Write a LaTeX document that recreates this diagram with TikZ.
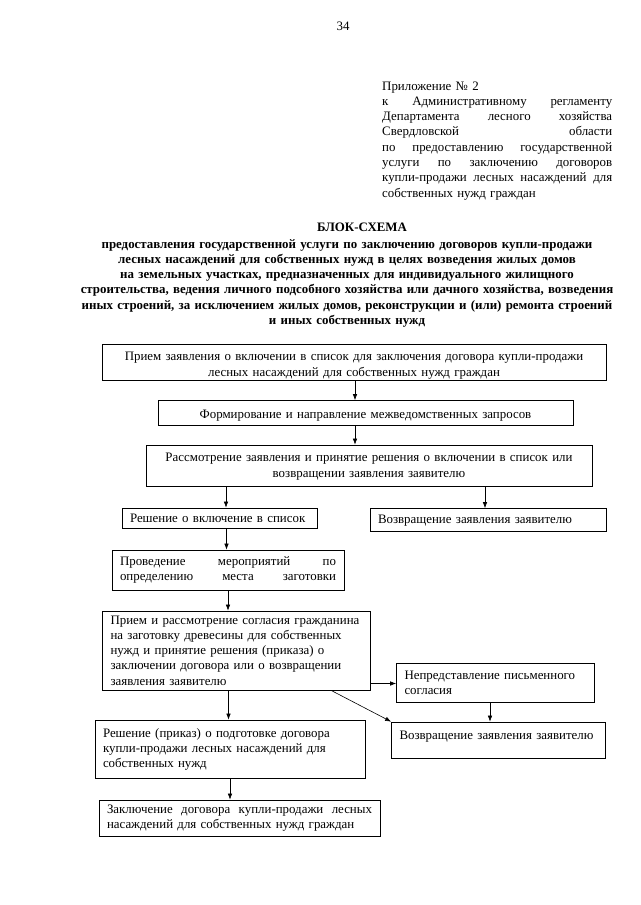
\documentclass[tikz,border=0pt]{standalone}
\usepackage{fontspec}
\setmainfont{Liberation Serif}
\usetikzlibrary{arrows.meta}
\newcommand{\jline}[1]{\makebox[\linewidth][s]{\spaceskip=0.3em plus 1fil\relax#1}}

\begin{document}
\begin{tikzpicture}[x=1pt, y=-1pt,
    font=\fontsize{12.9}{15.3}\selectfont,
    box/.style={draw, line width=0.7pt, inner xsep=8pt, inner ysep=0pt},
    arr/.style={line width=0.6pt, -{Latex[length=6pt,width=4.5pt]}}]
        \useasboundingbox (0,0) rectangle (640,905);

        % header
        \node [anchor=base] (page) at (343,30) {34};
        \node [anchor=base west, inner sep=0pt, text width=230pt, align=left] (prilozh) at (382,90) {Приложение №~2\\
            \jline{к Административному регламенту}\\
            \jline{Департамента лесного хозяйства}\\
            \jline{Свердловской области}\\
            \jline{по предоставлению государственной}\\
            \jline{услуги по заключению договоров}\\
            \jline{купли-продажи лесных насаждений для}\\
            собственных нужд граждан};
        \node [anchor=base, font=\bfseries\fontsize{12.9}{15.3}\selectfont] (titul) at (362,231.5) {БЛОК-СХЕМА};
        \node [anchor=base, inner sep=0pt, text width=560pt, align=center, font=\bfseries\fontsize{12.9}{15.3}\selectfont] (podtitul) at (347,248) {предоставления государственной услуги по заключению договоров купли-продажи\\
            лесных насаждений  для собственных нужд в целях возведения жилых домов\\
            на земельных участках, предназначенных для индивидуального жилищного\\
            строительства, ведения личного подсобного хозяйства или дачного хозяйства, возведения\\
            иных строений, за исключением жилых домов, реконструкции и (или) ремонта строений\\
            и иных собственных нужд};

        % boxes
        \node [box, text width=488pt, minimum height=36.5pt, text height=15.5pt, align=center] (priem) at (354,362.25) {Прием заявления о включении в список для заключения договора купли-продажи\\ лесных насаждений для собственных нужд граждан};
        \node [box, text width=399pt, minimum height=24.5pt, text height=15pt, text depth=3pt, align=center] (zapros) at (365.5,412.75) {Формирование и направление межведомственных запросов};
        \node [box, text width=430pt, minimum height=41.5pt, text height=10.5pt, align=center] (rassm) at (369,465.75) {Рассмотрение заявления и принятие решения о включении в список или\\ возвращении заявления заявителю};
        \node [box, text width=179pt, minimum height=20pt, align=left] (vkl) at (219.5,518) {Решение о включение в список};
        \node [box, text width=220pt, minimum height=22.5pt, text height=11pt, text depth=3pt, align=left] (vozv) at (488,519.75) {Возвращение заявления заявителю};
        \node [box, text width=216pt, minimum height=40pt, align=left] (mesto) at (228,570) {\jline{Проведение мероприятий по}\\ \jline{определению места заготовки}};
        \node [box, text width=251.5pt, minimum height=79pt, align=left] (soglas) at (236.25,650.5) {Прием и рассмотрение согласия гражданина\\ на заготовку древесины для собственных\\ нужд и принятие решения (приказа) о\\ заключении договора или о возвращении\\ заявления заявителю};
        \node [box, text width=181.5pt, minimum height=38.5pt, align=left] (nepred) at (495.25,682.75) {Непредставление письменного\\ согласия};
        \node [box, text width=197.5pt, minimum height=36.5pt, text height=9pt, text depth=11pt, align=left] (vozv2) at (498.25,740.25) {Возвращение заявления заявителю};
        \node [box, text width=254pt, minimum height=58.5pt, align=left] (prikaz) at (230,749.25) {Решение (приказ) о подготовке договора\\ купли-продажи лесных насаждений для\\ собственных нужд};
        \node [box, text width=265pt, minimum height=36.5pt, align=left] (dogovor) at (239.5,818.25) {\jline{Заключение договора купли-продажи лесных}\\ насаждений для собственных нужд граждан};

        % arrows
        \draw [arr] (355,0 |- priem.south) -- (355,0 |- zapros.north);
        \draw [arr] (355,0 |- zapros.south) -- (355,0 |- rassm.north);
        \draw [arr] (226,0 |- rassm.south) -- (226,0 |- vkl.north);
        \draw [arr] (485,0 |- rassm.south) -- (485,0 |- vozv.north);
        \draw [arr] (226.5,0 |- vkl.south) -- (226.5,0 |- mesto.north);
        \draw [arr] (228,0 |- mesto.south) -- (228,0 |- soglas.north);
        \draw [arr] (soglas.east |- 0,683.5) -- (nepred.west |- 0,683.5);
        \draw [arr] (490,0 |- nepred.south) -- (490,0 |- vozv2.north);
        \draw [arr] (331,0 |- soglas.south) -- (vozv2.north west);
        \draw [arr] (228.5,0 |- soglas.south) -- (228.5,0 |- prikaz.north);
        \draw [arr] (230,0 |- prikaz.south) -- (230,0 |- dogovor.north);
    \end{tikzpicture}
\end{document}
